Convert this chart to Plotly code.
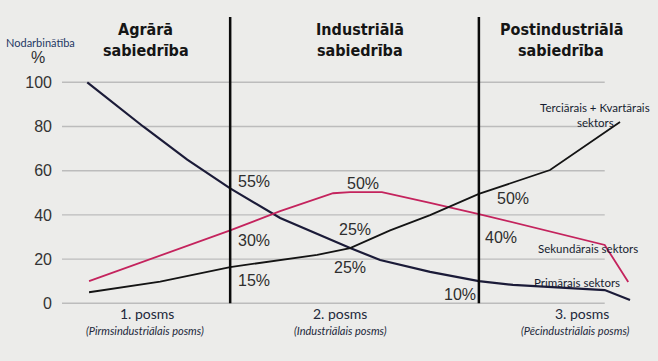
import plotly.graph_objects as go

# ---------------- data ----------------
# x = time along the development path (arbitrary 0-100 scale), y = employment share %
primary_t = [4.3, 13.8, 21.3, 24.7, 28.6, 37.1, 49.0, 54.1, 62.6, 70.9, 76.7, 92.3, 96.6]
primary_v = [100, 80, 65, 59, 52, 38.6, 25, 19.6, 14.2, 10, 8.3, 6, 1.5]

secondary_t = [4.6, 28.6, 37.1, 46.1, 49.0, 54.4, 62.6, 70.9, 92.3, 96.3]
secondary_v = [10, 33, 41.7, 49.8, 50.3, 50.3, 45.4, 40.4, 26.4, 9.6]

tertiary_t = [4.6, 16.7, 28.6, 43.4, 49.0, 55.8, 62.6, 70.9, 83.0, 94.9]
tertiary_v = [5, 9.8, 16.4, 21.9, 25, 33, 39.9, 49.5, 60.3, 82]

y_ticks = [0, 20, 40, 60, 80, 100]
phase_bounds = [28.6, 70.9]

society_line1 = ["Agrārā", "Industriālā", "Postindustriālā"]
society_line2 = ["sabiedrība", "sabiedrība", "sabiedrība"]
society_x = [14.2, 50.7, 84.9]

stage_labels = ["1. posms", "2. posms", "3. posms"]
stage_x = [14.5, 47.3, 88.4]
stage_sub = ["(Pirmsindustriālais posms)", "(Industriālais posms)", "(Pēcindustriālais posms)"]
stage_sub_x = [14.1, 47.3, 87.4]

pct_text = ["55%", "30%", "15%", "50%", "25%", "25%", "10%", "50%", "40%"]
pct_x = [29.6, 29.6, 29.6, 48.1, 46.8, 45.9, 64.6, 73.6, 71.6]
pct_y = [54.9, 28.6, 10.5, 54.4, 33.2, 16.0, 4.2, 47.2, 30.0]

series_names = ["Terciārais + Kvartārais", "sektors", "Sekundārais sektors", "Primārais sektors"]
series_label_x = [90.6, 90.8, 89.5, 87.6]
series_label_y = [88.4, 82.0, 24.6, 9.6]

# ---------------- layout constants ----------------
W, H = 658, 361
ML, MR = 62, 8
px_per_unit = 2.21
zero_px = 303.3
y_max = zero_px / px_per_unit
y_min = -(H - zero_px) / px_per_unit
grid_end = 92.3
vline_top = 129.6

BG = "#ECECEA"
COND = "DejaVu Sans Condensed, Liberation Sans, Arial, sans-serif"
HEL = "Liberation Sans, Arial, sans-serif"
CAL = "Lato, Open Sans, sans-serif"

fig = go.Figure()

fig.add_trace(go.Scatter(x=primary_t, y=primary_v, mode="lines",
                         line=dict(color="#1b1b38", width=2.2), hoverinfo="skip"))
fig.add_trace(go.Scatter(x=secondary_t, y=secondary_v, mode="lines",
                         line=dict(color="#c4235d", width=1.8), hoverinfo="skip"))
fig.add_trace(go.Scatter(x=tertiary_t, y=tertiary_v, mode="lines",
                         line=dict(color="#141414", width=1.8), hoverinfo="skip"))

shapes = []
for v in y_ticks:
    shapes.append(dict(type="line", xref="x", yref="y", x0=0, x1=grid_end, y0=v, y1=v,
                       line=dict(color="#bcbcbc", width=1.4), layer="below"))
for b in phase_bounds:
    shapes.append(dict(type="line", xref="x", yref="y", x0=b, x1=b, y0=0, y1=vline_top,
                       line=dict(color="#0a0a0a", width=2.5), layer="above"))

ann = []
for t1, t2, x in zip(society_line1, society_line2, society_x):
    ann.append(dict(x=x, y=123.7, text="<b>" + t1 + "</b>", showarrow=False,
                    xanchor="center", yanchor="middle",
                    font=dict(family=COND, size=16, color="#151515")))
    ann.append(dict(x=x, y=114.2, text="<b>" + t2 + "</b>", showarrow=False,
                    xanchor="center", yanchor="middle",
                    font=dict(family=COND, size=16, color="#151515")))
for txt, x in zip(stage_labels, stage_x):
    ann.append(dict(x=x, y=-4.4, text=txt, showarrow=False, xanchor="center", yanchor="middle",
                    font=dict(family=CAL, size=14, color="#22283a")))
for txt, x in zip(stage_sub, stage_sub_x):
    ann.append(dict(x=x, y=-12.1, text="<i>" + txt + "</i>", showarrow=False,
                    xanchor="center", yanchor="middle",
                    font=dict(family=CAL, size=11, color="#22283a")))
for txt, x, y in zip(pct_text, pct_x, pct_y):
    ann.append(dict(x=x, y=y, text=txt, showarrow=False, xanchor="left", yanchor="middle",
                    font=dict(family=HEL, size=16, color="#2e2e2e")))
for txt, x, y in zip(series_names, series_label_x, series_label_y):
    ann.append(dict(x=x, y=y, text=txt, showarrow=False, xanchor="center", yanchor="middle",
                    font=dict(family=CAL, size=11.5, color="#161c30")))
plot_w = W - ML - MR
ann.append(dict(xref="paper", x=(40 - ML) / plot_w, y=118.2, text="Nodarbinātība", showarrow=False,
                xanchor="center", yanchor="middle",
                font=dict(family=CAL, size=11, color="#1f3864")))
ann.append(dict(xref="paper", x=(38 - ML) / plot_w, y=111.0, text="%", showarrow=False,
                xanchor="center", yanchor="middle",
                font=dict(family=HEL, size=16, color="#2e2e2e")))

fig.update_layout(
    width=W, height=H,
    margin=dict(l=ML, r=MR, t=0, b=0, autoexpand=False),
    paper_bgcolor=BG, plot_bgcolor=BG,
    showlegend=False,
    shapes=shapes, annotations=ann,
    xaxis=dict(range=[0, 100], visible=False, fixedrange=True),
    yaxis=dict(range=[y_min, y_max], tickvals=y_ticks, showgrid=False, zeroline=False,
               showline=False, ticks="", ticklabelstandoff=9, automargin=False,
               tickfont=dict(family=HEL, size=16, color="#333333"),
               fixedrange=True),
)

fig.write_html("out.html", config={"displayModeBar": False},
               post_script="document.body.style.margin='0';document.body.style.background='#ECECEA';")
